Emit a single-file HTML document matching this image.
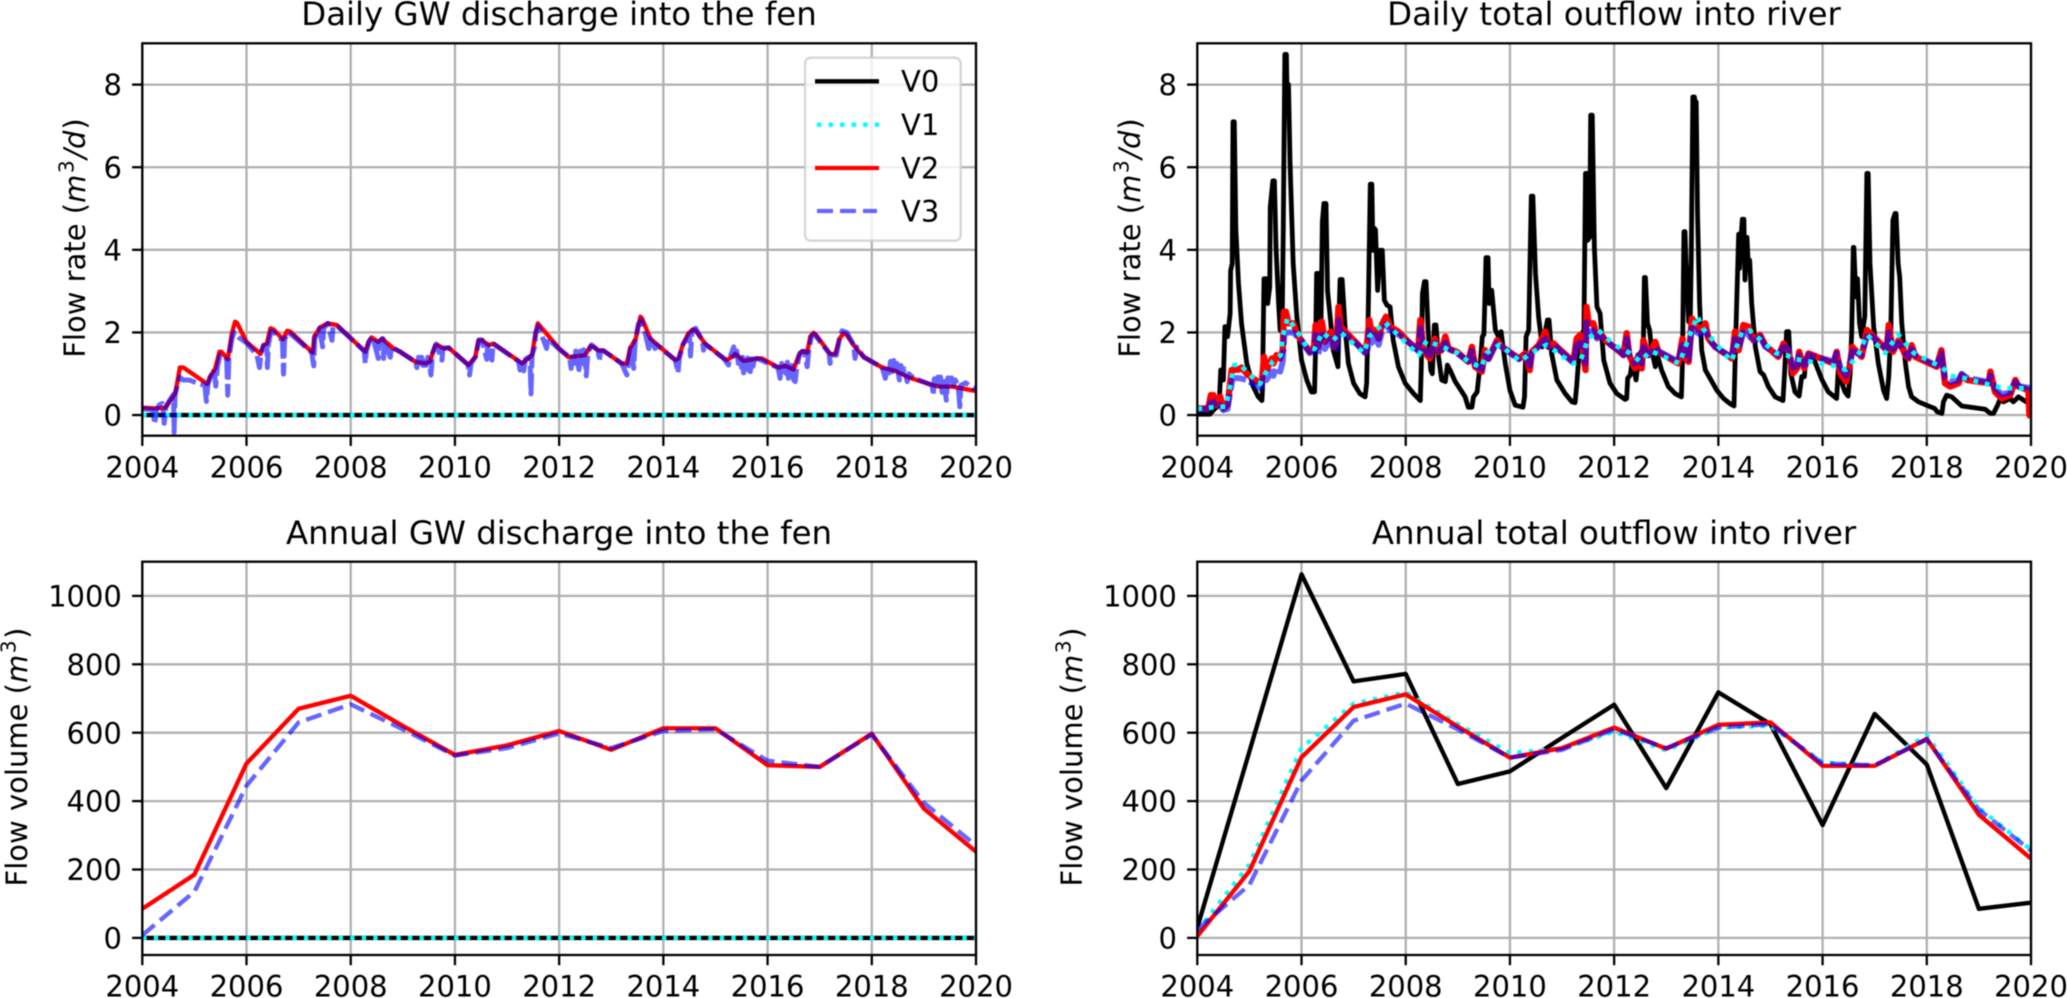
<!DOCTYPE html>
<html lang="en">
<head>
<meta charset="utf-8">
<title>GW discharge and river outflow</title>
<style>
html,body{margin:0;padding:0;background:#fff;width:2067px;height:998px;overflow:hidden}
svg{display:block;filter:blur(0.45px)}
text{font-family:"DejaVu Sans","Liberation Sans",sans-serif;fill:#000}
.title{font-size:32.4px;text-anchor:middle}
.ylab{font-size:29px;text-anchor:middle}
.leg{font-size:29px}
</style>
</head>
<body>
<svg id="figure" xmlns="http://www.w3.org/2000/svg" width="2067" height="998" viewBox="0 0 2067 998">
<defs id="defs"></defs>
<g id="panel-a"></g>
<g id="panel-b"></g>
<g id="panel-c"></g>
<g id="panel-d"></g>

<text class="title" x="559" y="25">Daily GW discharge into the fen</text>
<text class="title" x="1614" y="25">Daily total outflow into river</text>
<text class="title" x="559" y="544">Annual GW discharge into the fen</text>
<text class="title" x="1614" y="544">Annual total outflow into river</text>

<text class="ylab" transform="translate(85,238) rotate(-90)">Flow rate (<tspan font-style="italic">m</tspan><tspan font-size="20.3" dx="1.5" dy="-11.5">3</tspan><tspan dx="1.5" dy="11.5" font-style="italic">/d</tspan><tspan dx="1">)</tspan></text>
<text class="ylab" transform="translate(1140,238) rotate(-90)">Flow rate (<tspan font-style="italic">m</tspan><tspan font-size="20.3" dx="1.5" dy="-11.5">3</tspan><tspan dx="1.5" dy="11.5" font-style="italic">/d</tspan><tspan dx="1">)</tspan></text>
<text class="ylab" transform="translate(27,757) rotate(-90)">Flow volume (<tspan font-style="italic">m</tspan><tspan font-size="20.3" dx="1.5" dy="-11.5">3</tspan><tspan dx="1.5" dy="11.5">)</tspan></text>
<text class="ylab" transform="translate(1082,757) rotate(-90)">Flow volume (<tspan font-style="italic">m</tspan><tspan font-size="20.3" dx="1.5" dy="-11.5">3</tspan><tspan dx="1.5" dy="11.5">)</tspan></text>

<g>
  <rect x="805" y="57.7" width="155.7" height="183" rx="5.8" ry="5.8" fill="#fff" fill-opacity="0.8" stroke="#ccc" stroke-opacity="0.8" stroke-width="2.3"/>
  <g>
    <line x1="815" x2="879" y1="81.3" y2="81.3" stroke="#000" stroke-width="4.35"/>
    <text class="leg" x="901" y="91.7">V0</text>
  </g>
  <g>
    <line x1="817" x2="879" y1="124.7" y2="124.7" stroke="#00ffff" stroke-width="4.35" stroke-dasharray="4.35 7.2"/>
    <text class="leg" x="901" y="135">V1</text>
  </g>
  <g>
    <line x1="815" x2="879" y1="168" y2="168" stroke="#f00" stroke-width="4.35"/>
    <text class="leg" x="901" y="178.7">V2</text>
  </g>
  <g>
    <line x1="817" x2="877" y1="211" y2="211" stroke="#00f" stroke-opacity="0.6" stroke-width="4.35" stroke-dasharray="16 7"/>
    <text class="leg" x="901" y="221.7">V3</text>
  </g>
</g>
</svg>

<script>
// ---- axis tick labels ----
const yearTicks = [2004,2006,2008,2010,2012,2014,2016,2018,2020];
const dailyTicks = [0,2,4,6,8];
const annualTicks = [0,200,400,600,800,1000];

// ---- annual series ----
const annualYears = [2004,2005,2006,2007,2008,2009,2010,2011,2012,2013,2014,2015,2016,2017,2018,2019,2020];
const annualFenV0 = [0,0,0,0,0,0,0,0,0,0,0,0,0,0,0,0,0];
const annualFenV1 = [0,0,0,0,0,0,0,0,0,0,0,0,0,0,0,0,0];
const annualFenV2 = [85,185,510,670,708,620,535,563,605,550,613,613,505,500,597,378,252];
const annualFenV3 = [8,135,445,630,683,610,533,555,598,555,605,610,518,500,595,395,270];
const annualRiverV0 = [30,545,1063,750,772,450,487,585,682,438,718,625,330,655,507,85,103];
const annualRiverV1 = [20,215,555,685,718,625,540,555,603,548,615,620,513,503,592,380,258];
const annualRiverV2 = [5,195,528,675,712,618,527,555,615,553,623,630,503,503,582,360,232];
const annualRiverV3 = [25,155,460,635,685,610,527,550,610,555,615,625,510,505,580,375,255];

// ---- daily fen series ----
const dailyFenZeroYears = [2004,2020];
const dailyFenV0 = [0,0];
const dailyFenV1 = [0,0];
const fenV2Years = [2004,2004.24,2004.44,2004.63,2004.68,2004.72,2004.79,2005.25,2005.3,2005.4,2005.48,2005.52,2005.64,2005.72,2005.78,2005.82,2006,2006.27,2006.32,2006.39,2006.46,2006.52,2006.7,2006.78,2006.84,2007.27,2007.3,2007.41,2007.56,2007.73,2008.28,2008.34,2008.4,2008.53,2008.6,2008.82,2008.95,2009.24,2009.43,2009.52,2009.62,2009.68,2009.78,2009.88,2010.26,2010.39,2010.45,2010.52,2010.65,2010.74,2011.29,2011.48,2011.54,2011.59,2012,2012.18,2012.37,2012.5,2012.6,2012.66,2012.76,2012.85,2013.2,2013.3,2013.36,2013.47,2013.56,2013.59,2013.75,2014.23,2014.29,2014.37,2014.48,2014.57,2014.61,2014.8,2015.16,2015.22,2015.32,2015.38,2015.54,2015.8,2015.89,2016.21,2016.34,2016.5,2016.6,2016.66,2016.76,2016.82,2016.88,2016.93,2017.2,2017.3,2017.38,2017.46,2017.52,2017.65,2017.84,2018.2,2018.45,2018.71,2019.16,2019.29,2019.54,2019.96,2020];
const fenV2Values = [0.18,0.16,0.18,0.52,0.85,1.15,1.15,0.75,0.93,1.13,1.53,1.53,1.35,1.98,2.26,2.23,1.77,1.48,1.69,1.73,2.1,2.07,1.83,2.04,2.02,1.51,1.9,2.12,2.22,2.18,1.53,1.77,1.88,1.77,1.85,1.61,1.53,1.29,1.25,1.29,1.69,1.69,1.61,1.63,1.21,1.41,1.8,1.81,1.69,1.73,1.25,1.45,1.93,2.22,1.61,1.4,1.43,1.45,1.67,1.65,1.56,1.56,1.25,1.25,1.61,1.85,2.38,2.34,1.85,1.33,1.37,1.69,1.98,2.07,2.06,1.73,1.37,1.33,1.41,1.48,1.31,1.37,1.37,1.15,1.19,1.1,1.45,1.55,1.51,1.9,1.99,1.94,1.48,1.48,1.85,1.98,1.94,1.69,1.41,1.15,1.07,0.91,0.73,0.69,0.69,0.59,0.59];
const fenV3Years = [2004,2004.2,2004.24,2004.27,2004.33,2004.38,2004.4,2004.42,2004.45,2004.52,2004.6,2004.61,2004.63,2004.68,2004.72,2004.78,2004.9,2005,2005.2,2005.23,2005.26,2005.3,2005.38,2005.41,2005.44,2005.49,2005.55,2005.62,2005.64,2005.66,2005.72,2005.76,2005.85,2006,2006.2,2006.25,2006.28,2006.33,2006.39,2006.4,2006.42,2006.47,2006.53,2006.69,2006.71,2006.73,2006.79,2006.86,2007.25,2007.29,2007.31,2007.4,2007.46,2007.48,2007.56,2007.64,2007.66,2007.75,2008.26,2008.28,2008.3,2008.36,2008.42,2008.53,2008.55,2008.62,2008.63,2008.65,2008.76,2008.78,2008.95,2009.24,2009.27,2009.3,2009.33,2009.36,2009.39,2009.42,2009.45,2009.48,2009.51,2009.54,2009.57,2009.64,2009.75,2009.77,2009.88,2010.25,2010.28,2010.31,2010.4,2010.46,2010.52,2010.61,2010.63,2010.71,2010.73,2011.22,2011.25,2011.29,2011.32,2011.35,2011.44,2011.46,2011.48,2011.53,2011.55,2011.6,2011.76,2011.78,2012,2012.2,2012.23,2012.26,2012.29,2012.32,2012.35,2012.38,2012.41,2012.44,2012.47,2012.5,2012.52,2012.55,2012.62,2012.75,2012.77,2012.8,2012.85,2013.2,2013.3,2013.33,2013.38,2013.43,2013.46,2013.52,2013.57,2013.63,2013.72,2013.75,2013.84,2013.87,2014.23,2014.28,2014.31,2014.38,2014.5,2014.52,2014.55,2014.62,2014.75,2014.77,2014.8,2015.16,2015.25,2015.28,2015.35,2015.38,2015.41,2015.44,2015.47,2015.5,2015.52,2015.54,2015.57,2015.59,2015.62,2015.64,2015.67,2015.69,2015.72,2015.75,2015.8,2016.2,2016.24,2016.27,2016.3,2016.33,2016.36,2016.38,2016.4,2016.43,2016.45,2016.47,2016.5,2016.53,2016.56,2016.62,2016.7,2016.76,2016.79,2016.84,2016.9,2017.18,2017.2,2017.23,2017.32,2017.38,2017.43,2017.52,2017.65,2017.68,2017.71,2017.85,2018.2,2018.26,2018.3,2018.33,2018.36,2018.39,2018.42,2018.45,2018.48,2018.53,2018.56,2018.6,2018.62,2018.68,2018.71,2018.8,2019.16,2019.18,2019.2,2019.24,2019.27,2019.3,2019.32,2019.35,2019.37,2019.4,2019.43,2019.46,2019.5,2019.53,2019.57,2019.6,2019.66,2019.69,2019.71,2019.8,2019.96,2020];
const fenV3Values = [0.15,0.13,-0.22,0.13,0.25,0.28,0.16,-0.2,0.18,0.35,0.5,-0.42,0.5,0.75,0.92,0.85,0.85,0.8,0.72,0.33,0.75,0.9,1.1,0.7,1.15,1.45,1.45,1.35,0.48,1.35,1.85,2,1.88,1.75,1.45,1.15,1.5,1.68,1.7,1.15,1.7,2.03,2,1.8,0.99,1.82,2,1.95,1.52,1.19,1.85,2.1,1.65,2.1,2.22,1.81,2.15,2.15,1.55,1.25,1.55,1.8,1.9,1.37,1.78,1.85,1.37,1.78,1.4,1.65,1.53,1.29,1.15,1.4,1.15,1.4,1.2,1.4,1.2,1.4,1.25,0.97,1.5,1.72,1.33,1.62,1.63,1.22,0.97,1.25,1.42,1.82,1.82,1.35,1.7,1.33,1.73,1.3,1.09,1.25,1.07,1.35,1.42,0.51,1.45,1.65,2,2.15,1.61,1.85,1.6,1.4,1.13,1.5,1.25,1.55,1.3,1.1,1.55,1.25,1.58,1.3,0.95,1.5,1.7,1.56,1.31,1.56,1.56,1.25,0.97,1.25,1.7,1.13,1.8,2.2,2.3,2.1,1.61,1.85,1.61,1.7,1.33,1.02,1.4,1.72,1.95,1.43,2.05,2.1,1.8,1.57,1.72,1.37,1.21,1.4,1.65,1.35,1.55,1.25,1.45,1.15,1.4,1.02,1.38,1.12,1.38,1.08,1.05,1.36,1.18,1.36,1.37,1.15,0.89,1.25,1.05,1.28,1,1.28,0.89,1.25,0.95,1.2,0.85,0.81,1.15,1.5,1.55,1.17,1.55,1.9,1.95,1.5,1.25,1.45,1.45,1.85,2.04,2,1.7,1.37,1.65,1.4,1.15,0.89,1.2,1.02,1.3,1.05,1.32,1.05,1.25,0.85,1.2,1,1.12,0.81,1,0.9,0.72,0.48,0.88,0.72,0.92,0.72,0.92,0.55,0.93,0.72,0.36,0.9,0.72,0.9,0.72,0.85,0.68,0.2,0.72,0.78,0.64,0.65];

// ---- daily river series ----
const riverV0Years = [2004,2004.24,2004.34,2004.42,2004.45,2004.48,2004.5,2004.53,2004.58,2004.63,2004.64,2004.67,2004.685,2004.71,2004.74,2004.79,2004.85,2004.95,2005.07,2005.17,2005.24,2005.25,2005.28,2005.32,2005.35,2005.39,2005.4,2005.45,2005.48,2005.51,2005.56,2005.59,2005.63,2005.65,2005.68,2005.71,2005.72,2005.75,2005.78,2005.84,2005.91,2006,2006.1,2006.19,2006.25,2006.27,2006.29,2006.32,2006.35,2006.375,2006.4,2006.43,2006.47,2006.5,2006.55,2006.61,2006.7,2006.72,2006.74,2006.78,2006.84,2006.9,2007,2007.12,2007.22,2007.25,2007.28,2007.32,2007.35,2007.37,2007.4,2007.42,2007.46,2007.51,2007.55,2007.59,2007.64,2007.7,2007.76,2007.86,2007.99,2008.15,2008.28,2008.3,2008.32,2008.36,2008.39,2008.43,2008.48,2008.51,2008.55,2008.58,2008.63,2008.69,2008.76,2008.8,2008.85,2008.95,2009.08,2009.14,2009.2,2009.27,2009.3,2009.37,2009.43,2009.47,2009.5,2009.53,2009.54,2009.58,2009.6,2009.65,2009.72,2009.78,2009.83,2009.91,2010,2010.1,2010.25,2010.28,2010.31,2010.36,2010.41,2010.44,2010.49,2010.55,2010.62,2010.72,2010.75,2010.8,2010.9,2011.06,2011.19,2011.25,2011.28,2011.35,2011.42,2011.45,2011.48,2011.49,2011.53,2011.55,2011.58,2011.62,2011.67,2011.73,2011.8,2011.92,2012.05,2012.21,2012.24,2012.26,2012.31,2012.35,2012.42,2012.47,2012.56,2012.58,2012.6,2012.64,2012.68,2012.72,2012.79,2012.83,2012.91,2013.04,2013.17,2013.29,2013.31,2013.34,2013.36,2013.39,2013.43,2013.46,2013.48,2013.51,2013.54,2013.555,2013.575,2013.6,2013.64,2013.68,2013.75,2013.84,2013.97,2014.1,2014.23,2014.3,2014.32,2014.355,2014.39,2014.405,2014.44,2014.46,2014.49,2014.51,2014.55,2014.57,2014.6,2014.64,2014.71,2014.8,2014.87,2014.96,2015.09,2015.24,2015.27,2015.31,2015.35,2015.39,2015.47,2015.55,2015.6,2015.65,2015.68,2015.83,2015.89,2015.99,2016.11,2016.27,2016.3,2016.35,2016.43,2016.49,2016.53,2016.56,2016.59,2016.6,2016.64,2016.67,2016.71,2016.75,2016.81,2016.85,2016.875,2016.91,2016.98,2017.07,2017.17,2017.23,2017.27,2017.31,2017.35,2017.39,2017.41,2017.45,2017.48,2017.52,2017.59,2017.65,2017.71,2017.84,2018.07,2018.15,2018.2,2018.29,2018.32,2018.38,2018.48,2018.67,2018.9,2019.12,2019.22,2019.28,2019.36,2019.41,2019.47,2019.6,2019.66,2019.76,2019.86,2019.97,2020];
const riverV0Values = [0.02,0.02,0.16,0.24,1.09,1.09,0.85,2.14,1.9,2.46,3.5,3.67,7.1,7.1,4.5,3.2,2.2,1.25,0.7,0.44,0.35,0.6,3.3,3.3,2.7,3.1,5.04,5.67,5.67,4.07,2.7,2.05,2.3,4.5,8.73,8.73,8,8,6.1,3.67,2.38,1.33,0.85,0.56,0.56,1.65,3.43,3.43,2.46,2.3,4.68,5.12,5.12,3,2.38,1.57,1.17,2.38,3.28,3.28,2.05,1.25,0.77,0.52,0.44,0.77,2.46,5.59,5.59,3.99,4.52,4.48,3.02,3.99,3.99,2.78,2.66,2.62,1.81,1.17,0.77,0.52,0.35,1.25,2.94,3.23,3.23,2.06,1.09,1,2.18,2.18,1.41,0.85,0.81,1.21,1.09,0.81,0.56,0.44,0.19,0.19,0.44,0.56,1.25,1.9,1.95,3.27,3.81,3.81,2.7,3.02,2.06,1.9,2.02,1.25,0.6,0.24,0.19,0.44,1.9,2.06,5.3,5.3,3.43,2.38,1.65,2.3,2.3,1.49,0.85,0.52,0.32,0.3,0.69,1.9,2.05,5.85,5.85,4.23,4.31,7.26,7.26,4.07,2.62,2.46,1.33,0.77,0.52,0.38,0.4,0.89,0.97,1.33,0.85,1.41,1.65,3.33,3.33,2.22,2.06,1.57,1.17,1.45,1.09,0.69,0.52,0.44,1.25,4.44,4.44,3.35,2.26,2.26,3.83,7.7,7.7,7.58,7.58,4.88,2.7,1.57,1.09,0.89,0.6,0.4,0.27,0.22,1.25,2.86,4.38,3.55,4.38,4.74,4.74,3.27,4.3,3.75,3.75,2.7,1.65,1.05,0.97,0.69,0.44,0.35,1.01,2.02,2.02,1.01,0.56,0.46,0.93,0.93,1.37,1.37,1.17,0.85,0.56,0.4,1.09,0.85,0.56,0.46,1.01,2.06,4.06,4.06,2.86,3.3,2.22,1.9,2.38,5.85,5.85,3.67,2.14,1.25,0.6,0.4,0.93,2.06,4.72,4.88,4.88,3.67,3.35,2.22,1.25,0.69,0.44,0.32,0.2,0.16,0.08,0.04,0.32,0.48,0.44,0.22,0.18,0.14,0.04,0.04,0.24,0.4,0.32,0.4,0.32,0.44,0.36,0.27,0.22];

const riverV1Years = [2004,2004.4,2004.55,2004.63,2004.7,2004.8,2004.95,2005.2,2005.3,2005.45,2005.6,2005.64,2005.73,2005.85,2006.1,2006.25,2006.4,2006.6,2006.75,2007.2,2007.3,2007.6,2007.8,2008.25,2008.4,2008.6,2009,2009.2,2009.45,2009.55,2009.8,2010.2,2010.4,2010.7,2011.2,2011.35,2011.5,2011.7,2012,2012.3,2012.5,2012.7,2013.25,2013.5,2013.6,2013.7,2014.25,2014.45,2014.6,2015.1,2015.3,2015.5,2016.2,2016.45,2016.7,2016.85,2017.2,2017.45,2017.75,2018.3,2018.45,2018.7,2019.3,2019.5,2019.8,2020];
const riverV1Values = [0.15,0.2,0.2,0.7,1.2,1.25,1.05,0.75,1,1.3,1.45,1.9,2.35,2.15,1.65,1.6,2,1.8,2,1.5,1.9,2.25,2,1.45,1.8,1.7,1.5,1.3,1.15,1.5,1.7,1.3,1.5,1.7,1.25,1.3,1.85,2.05,1.7,1.5,1.3,1.55,1.25,2.1,2.4,2.1,1.3,2,2.05,1.5,1.45,1.35,1.2,1.1,1.5,1.95,1.5,1.95,1.5,1.15,0.95,0.9,0.7,0.65,0.65,0.65];

const riverV2Years = [2004,2004.21,2004.26,2004.31,2004.36,2004.44,2004.5,2004.58,2004.63,2004.66,2004.79,2004.85,2004.95,2005.2,2005.24,2005.28,2005.33,2005.43,2005.46,2005.52,2005.59,2005.64,2005.66,2005.7,2005.75,2005.84,2005.94,2006.07,2006.16,2006.24,2006.27,2006.32,2006.39,2006.45,2006.56,2006.62,2006.67,2006.71,2006.75,2006.84,2007,2007.22,2007.26,2007.3,2007.35,2007.41,2007.48,2007.54,2007.62,2007.7,2007.86,2008.02,2008.24,2008.28,2008.34,2008.46,2008.56,2008.63,2008.69,2008.76,2008.82,2008.98,2009.2,2009.27,2009.33,2009.46,2009.52,2009.59,2009.75,2009.85,2010.17,2010.29,2010.38,2010.42,2010.55,2010.68,2010.74,2010.84,2010.97,2011.22,2011.28,2011.35,2011.45,2011.47,2011.51,2011.6,2011.67,2011.76,2011.83,2012.11,2012.18,2012.24,2012.29,2012.4,2012.47,2012.53,2012.56,2012.66,2012.79,2012.85,2013.23,2013.31,2013.36,2013.43,2013.49,2013.59,2013.65,2013.75,2013.81,2013.94,2014.26,2014.32,2014.39,2014.48,2014.58,2014.67,2014.8,2014.9,2015.15,2015.25,2015.35,2015.43,2015.51,2015.55,2015.65,2015.73,2016.21,2016.27,2016.34,2016.45,2016.53,2016.57,2016.75,2016.85,2016.95,2017.14,2017.23,2017.27,2017.35,2017.46,2017.59,2017.65,2017.71,2017.78,2018.19,2018.28,2018.35,2018.45,2018.61,2018.67,2018.77,2019.19,2019.22,2019.31,2019.44,2019.6,2019.7,2019.76,2019.95,2019.97,2020];
const riverV2Values = [0.16,0.16,0.48,0.48,0.24,0.44,0.16,0.24,0.77,1.09,1.1,1.15,1,0.77,0.8,1.41,1.09,1.37,1.25,1.45,1.37,1.57,2.5,2.5,2.22,2.22,1.9,1.69,1.53,1.65,2.18,1.65,2.26,1.77,2.02,1.65,1.73,2.62,2.14,2.02,1.81,1.53,1.77,2.3,1.98,2.06,1.85,2.18,2.38,2.14,2.02,1.81,1.57,2.3,1.57,1.37,1.85,1.53,1.57,1.9,1.61,1.53,1.29,1.65,1.17,1.05,1.57,1.37,1.81,1.65,1.37,1.49,1.09,1.53,1.69,2.02,1.65,1.73,1.57,1.29,1.85,1.94,1.09,2.62,2.22,2.22,1.9,1.94,1.81,1.53,1.45,1.98,1.45,1.13,1.45,1.13,1.81,1.45,1.77,1.53,1.25,1.85,1.37,1.29,2.34,2.14,2.02,2.22,1.85,1.65,1.37,2.02,1.57,2.18,2.14,1.81,1.94,1.69,1.41,1.73,1.53,1.01,1.13,1.53,1.13,1.49,1.25,1.53,1.01,0.81,1.25,1.65,1.41,2.06,1.94,1.69,1.57,2.18,1.53,1.81,1.45,1.37,1.69,1.41,1.17,1.57,0.77,0.69,0.77,0.97,0.85,0.77,1.05,0.56,0.4,0.48,0.85,0.69,0.6,0,-0.05];

const riverV3Years = [2004,2004.2,2004.26,2004.31,2004.36,2004.43,2004.5,2004.58,2004.63,2004.68,2004.82,2004.95,2005.2,2005.24,2005.28,2005.33,2005.43,2005.46,2005.52,2005.59,2005.64,2005.67,2005.72,2005.84,2006,2006.1,2006.16,2006.24,2006.27,2006.32,2006.39,2006.45,2006.56,2006.62,2006.67,2006.71,2006.75,2006.84,2007,2007.22,2007.27,2007.3,2007.35,2007.41,2007.48,2007.54,2007.62,2007.7,2007.86,2008.02,2008.24,2008.28,2008.34,2008.46,2008.56,2008.63,2008.69,2008.76,2008.82,2008.98,2009.2,2009.27,2009.33,2009.46,2009.52,2009.59,2009.75,2009.85,2010.17,2010.29,2010.38,2010.42,2010.55,2010.68,2010.74,2010.84,2010.97,2011.22,2011.28,2011.35,2011.45,2011.47,2011.51,2011.6,2011.67,2011.76,2011.93,2012.11,2012.18,2012.24,2012.29,2012.4,2012.47,2012.53,2012.56,2012.66,2012.79,2012.85,2013.23,2013.31,2013.36,2013.43,2013.49,2013.59,2013.65,2013.75,2013.81,2013.94,2014.26,2014.32,2014.39,2014.48,2014.58,2014.67,2014.8,2014.9,2015.15,2015.25,2015.35,2015.43,2015.51,2015.55,2015.65,2015.73,2016.21,2016.27,2016.34,2016.45,2016.53,2016.57,2016.75,2016.85,2016.95,2017.14,2017.23,2017.27,2017.35,2017.46,2017.59,2017.65,2017.71,2017.78,2018.19,2018.28,2018.35,2018.45,2018.61,2018.67,2018.77,2019.19,2019.22,2019.31,2019.44,2019.6,2019.7,2019.76,2020];
const riverV3Values = [0.14,0.14,0.3,0.32,0.2,0.25,0.12,0.15,0.55,0.9,0.89,0.85,0.65,0.7,1,0.85,1.05,0.95,1.15,1.05,1.3,1.95,2,2,1.8,1.6,1.5,1.55,1.95,1.45,1.95,1.6,1.85,1.55,1.6,2.3,2,1.95,1.8,1.5,1.6,2.05,1.75,1.95,1.7,2,2.2,2.05,1.95,1.8,1.55,2.1,1.6,1.45,1.75,1.55,1.6,1.75,1.6,1.5,1.3,1.55,1.2,1.1,1.45,1.35,1.75,1.65,1.35,1.45,1.2,1.5,1.65,1.85,1.65,1.7,1.55,1.25,1.7,1.75,1.25,2.25,2,2.05,1.85,1.9,1.7,1.55,1.45,1.85,1.45,1.25,1.45,1.25,1.65,1.45,1.65,1.55,1.3,1.7,1.4,1.35,2.1,2,1.95,2.05,1.85,1.65,1.4,1.85,1.6,2,1.95,1.75,1.9,1.65,1.45,1.65,1.6,1.15,1.2,1.45,1.2,1.45,1.3,1.5,1.15,0.95,1.3,1.55,1.45,1.9,1.9,1.7,1.6,2,1.6,1.75,1.5,1.4,1.6,1.45,1.2,1.5,0.9,0.8,0.85,1,0.9,0.8,0.95,0.65,0.5,0.55,0.8,0.7,0.65];

// ---- drawing ----
const SVG_NS = 'http://www.w3.org/2000/svg';
const STYLE_V0 = {stroke:'#000000', opacity:1, dash:'', width:4.35};
const STYLE_V1 = {stroke:'#00ffff', opacity:1, dash:'4.35 7.2', width:4.35};
const STYLE_V2 = {stroke:'#ff0000', opacity:1, dash:'', width:4.35};
const STYLE_V3 = {stroke:'#0000ff', opacity:0.6, dash:'16 7', width:4.35};
const STYLE_FEN_V3 = {stroke:'#0000ff', opacity:0.6, dash:'22 5', width:5};
const STYLE_RIVER_V0 = {stroke:'#000000', opacity:1, dash:'', width:4.8};
const STYLE_RIVER_V1 = {stroke:'#00ffff', opacity:1, dash:'4.8 6.8', width:4.8};
const STYLE_RIVER_V2 = {stroke:'#ff0000', opacity:1, dash:'', width:6.4};
const STYLE_RIVER_V3 = {stroke:'#0000ff', opacity:0.6, dash:'26 4', width:6};

function make(tag, parent){
  const el = document.createElementNS(SVG_NS, tag);
  parent.appendChild(el);
  return el;
}

function drawPanel(cfg){
  const g = document.getElementById(cfg.id);
  const xScale = v => cfg.left + (v - 2004) / 16 * (cfg.right - cfg.left);
  const yScale = v => cfg.bottom - (v - cfg.yMin) / (cfg.yMax - cfg.yMin) * (cfg.bottom - cfg.top);

  const clip = make('clipPath', document.getElementById('defs'));
  clip.setAttribute('id', cfg.id + '-clip');
  const clipRect = make('rect', clip);
  clipRect.setAttribute('x', cfg.left);
  clipRect.setAttribute('y', cfg.top);
  clipRect.setAttribute('width', cfg.right - cfg.left);
  clipRect.setAttribute('height', cfg.bottom - cfg.top);

  yearTicks.forEach(t => {
    const grid = make('line', g);
    
    
    grid.setAttribute('x1', xScale(t)); grid.setAttribute('x2', xScale(t));
    grid.setAttribute('y1', cfg.top); grid.setAttribute('y2', cfg.bottom);
    grid.setAttribute('stroke', '#b0b0b0'); grid.setAttribute('stroke-width', 2.3);
  });
  cfg.yTicks.forEach(t => {
    const grid = make('line', g);
    
    
    grid.setAttribute('x1', cfg.left); grid.setAttribute('x2', cfg.right);
    grid.setAttribute('y1', yScale(t)); grid.setAttribute('y2', yScale(t));
    grid.setAttribute('stroke', '#b0b0b0'); grid.setAttribute('stroke-width', 2.3);
  });

  cfg.series.forEach(s => {
    const path = make('path', g);
    
    
    const n = Math.min(s.xs.length, s.ys.length);
    let d = '';
    for (let i = 0; i < n; i++) {
      d += (i ? 'L' : 'M') + xScale(s.xs[i]).toFixed(2) + ' ' + yScale(s.ys[i]).toFixed(2);
    }
    path.setAttribute('d', d);
    path.setAttribute('fill', 'none');
    path.setAttribute('stroke', s.style.stroke);
    path.setAttribute('stroke-opacity', s.style.opacity);
    path.setAttribute('stroke-width', s.style.width);
    path.setAttribute('stroke-linejoin', 'round');
    if (s.style.dash) path.setAttribute('stroke-dasharray', s.style.dash);
    path.setAttribute('clip-path', 'url(#' + cfg.id + '-clip)');
  });

  const frame = make('rect', g);
  
  
  frame.setAttribute('x', cfg.left); frame.setAttribute('y', cfg.top);
  frame.setAttribute('width', cfg.right - cfg.left); frame.setAttribute('height', cfg.bottom - cfg.top);
  frame.setAttribute('fill', 'none'); frame.setAttribute('stroke', '#000'); frame.setAttribute('stroke-width', 2.3);

  yearTicks.forEach(t => {
    const tick = make('line', g);
    
    
    tick.setAttribute('x1', xScale(t)); tick.setAttribute('x2', xScale(t));
    tick.setAttribute('y1', cfg.bottom); tick.setAttribute('y2', cfg.bottom + 10.2);
    tick.setAttribute('stroke', '#000'); tick.setAttribute('stroke-width', 2.3);
    const label = make('text', g);
    
    
    label.setAttribute('x', xScale(t)); label.setAttribute('y', cfg.bottom + 41.6);
    label.setAttribute('font-size', 29); label.setAttribute('text-anchor', 'middle');
    label.textContent = t;
  });
  cfg.yTicks.forEach(t => {
    const tick = make('line', g);
    
    
    tick.setAttribute('x1', cfg.left - 10.2); tick.setAttribute('x2', cfg.left);
    tick.setAttribute('y1', yScale(t)); tick.setAttribute('y2', yScale(t));
    tick.setAttribute('stroke', '#000'); tick.setAttribute('stroke-width', 2.3);
    const label = make('text', g);
    
    
    label.setAttribute('x', cfg.left - 20.4); label.setAttribute('y', yScale(t) + 10.6);
    label.setAttribute('font-size', 29); label.setAttribute('text-anchor', 'end');
    label.textContent = t;
  });
}

drawPanel({id:'panel-a', left:142.3, right:976, top:43.3, bottom:435.7, yMin:-0.5, yMax:9, yTicks:dailyTicks, series:[
  {name:'fen-daily-v0', xs:dailyFenZeroYears, ys:dailyFenV0, style:STYLE_V0},
  {name:'fen-daily-v1', xs:dailyFenZeroYears, ys:dailyFenV1, style:STYLE_V1},
  {name:'fen-daily-v2', xs:fenV2Years, ys:fenV2Values, style:STYLE_V2},
  {name:'fen-daily-v3', xs:fenV3Years, ys:fenV3Values, style:STYLE_FEN_V3}
]});
drawPanel({id:'panel-b', left:1197.3, right:2031, top:43.3, bottom:435.7, yMin:-0.5, yMax:9, yTicks:dailyTicks, series:[
  {name:'river-daily-v0', xs:riverV0Years, ys:riverV0Values, style:STYLE_RIVER_V0},
  {name:'river-daily-v2', xs:riverV2Years, ys:riverV2Values, style:STYLE_RIVER_V2},
  {name:'river-daily-v3', xs:riverV3Years, ys:riverV3Values, style:STYLE_RIVER_V3},
  {name:'river-daily-v1', xs:riverV1Years, ys:riverV1Values, style:STYLE_RIVER_V1}
]});
drawPanel({id:'panel-c', left:142.3, right:976, top:561.7, bottom:955, yMin:-50, yMax:1100, yTicks:annualTicks, series:[
  {name:'fen-annual-v0', xs:annualYears, ys:annualFenV0, style:STYLE_V0},
  {name:'fen-annual-v1', xs:annualYears, ys:annualFenV1, style:STYLE_V1},
  {name:'fen-annual-v2', xs:annualYears, ys:annualFenV2, style:STYLE_V2},
  {name:'fen-annual-v3', xs:annualYears, ys:annualFenV3, style:STYLE_V3}
]});
drawPanel({id:'panel-d', left:1197.3, right:2031, top:561.7, bottom:955, yMin:-50, yMax:1100, yTicks:annualTicks, series:[
  {name:'river-annual-v0', xs:annualYears, ys:annualRiverV0, style:STYLE_V0},
  {name:'river-annual-v1', xs:annualYears, ys:annualRiverV1, style:STYLE_V1},
  {name:'river-annual-v2', xs:annualYears, ys:annualRiverV2, style:STYLE_V2},
  {name:'river-annual-v3', xs:annualYears, ys:annualRiverV3, style:STYLE_V3}
]});
</script>
</body>
</html>
